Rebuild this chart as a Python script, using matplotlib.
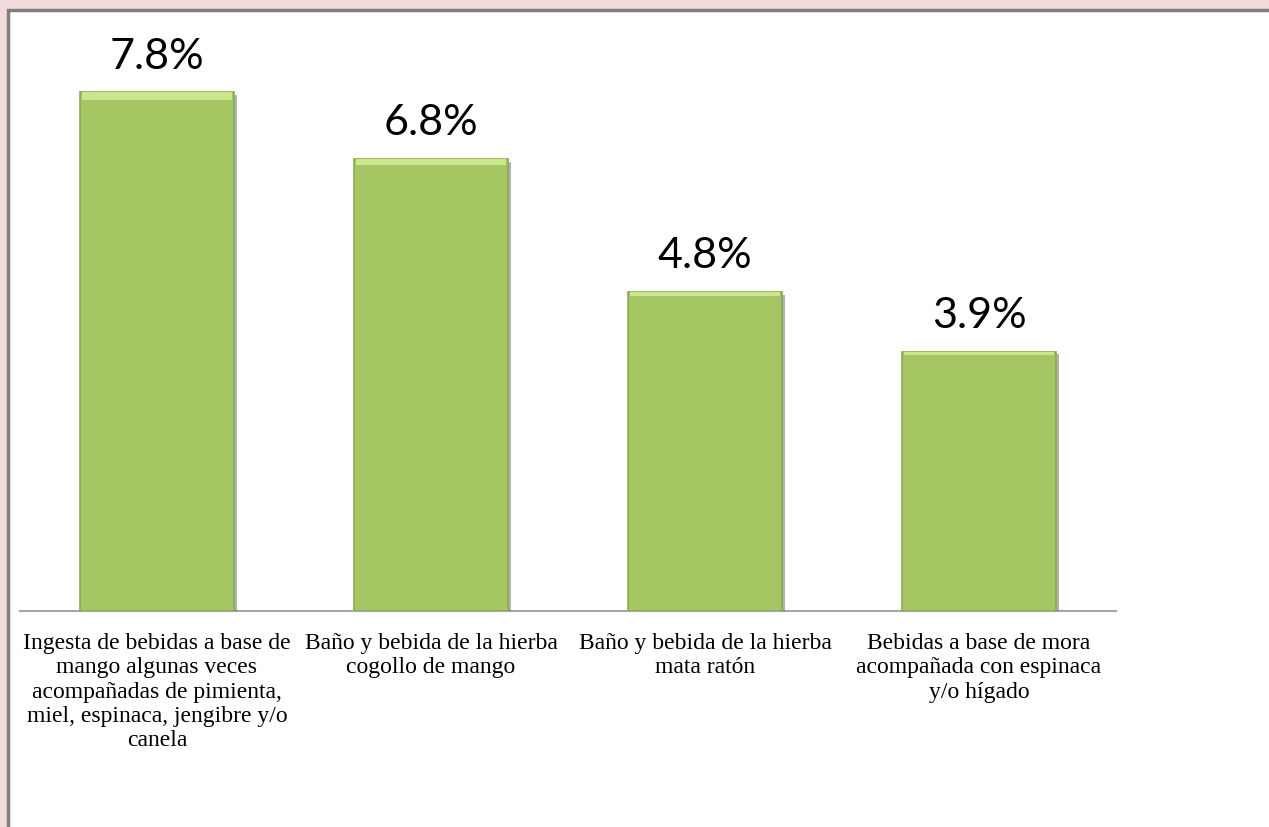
import matplotlib.pyplot as plt
import matplotlib.patheffects as pe
from matplotlib.patches import Rectangle

# datos
categorias = [
    "Ingesta de bebidas a base de\nmango algunas veces\nacompañadas de pimienta,\nmiel, espinaca, jengibre y/o\ncanela",
    "Baño y bebida de la hierba\ncogollo de mango",
    "Baño y bebida de la hierba\nmata ratón",
    "Bebidas a base de mora\nacompañada con espinaca\ny/o hígado",
]
valores = [7.8, 6.8, 4.8, 3.9]
etiquetas = ["7.8%", "6.8%", "4.8%", "3.9%"]

W, H = 1269, 827
fig = plt.figure(figsize=(W / 100, H / 100), dpi=100, facecolor="#f2dcdb")

# panel blanco con borde gris
fig.patches.append(Rectangle((8 / W, -0.05), 1.2, 1 - 10 / H + 0.05, transform=fig.transFigure,
                             facecolor="white", edgecolor="#7f7f7f", linewidth=2.5, zorder=-5))

ax = fig.add_axes([20 / W, 1 - 611 / H, (1116 - 20) / W, (611 - 10) / H])
ax.set_facecolor("none")
ax.set_zorder(2)

x = list(range(len(valores)))
bars = ax.bar(x, valores, width=0.565, color="#a5c663", edgecolor="#8aab4c", linewidth=1.2, zorder=3)
for b in bars:
    b.set_path_effects([pe.SimplePatchShadow(offset=(2, -2), shadow_rgbFace="#555555", alpha=0.45),
                        pe.Normal()])
# brillo superior tipo bisel
ax.bar(x, [v * 0.014 for v in valores], bottom=[v * 0.986 for v in valores], width=0.545,
       color="#cde68e", linewidth=0, zorder=4)

for xi, v, t in zip(x, valores, etiquetas):
    ax.annotate(t, (xi, v), xytext=(0, 17), textcoords="offset points", ha="center", va="baseline",
                fontsize=31, family=["Lato", "DejaVu Sans"], color="black")

ax.set_xlim(-0.5, len(valores) - 0.5)
ax.set_ylim(0, 9.04)
ax.set_yticks([])
ax.set_xticks(x)
ax.set_xticklabels(categorias, fontsize=17, family="Liberation Serif", linespacing=1.2, va="top")
ax.tick_params(axis="x", length=0, pad=16)
for s in ["top", "right", "left"]:
    ax.spines[s].set_visible(False)
ax.spines["bottom"].set_color("#a6a6a6")
ax.spines["bottom"].set_linewidth(1.5)

fig.savefig("out.png", dpi=100, facecolor=fig.get_facecolor())
